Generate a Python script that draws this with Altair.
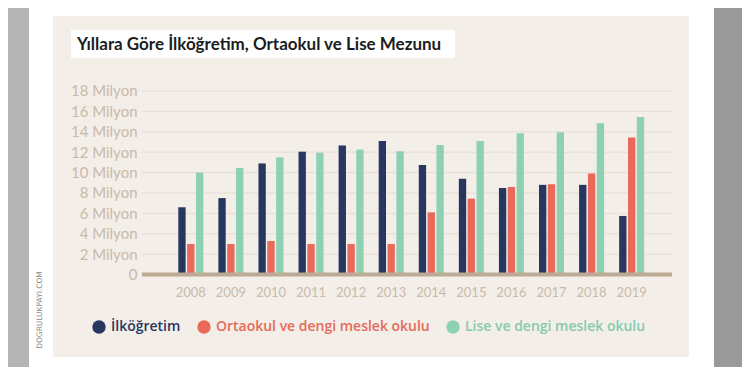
import altair as alt
import pandas as pd

years = ["2008", "2009", "2010", "2011", "2012", "2013", "2014", "2015", "2016", "2017", "2018", "2019"]
series_names = ["İlköğretim", "Ortaokul ve dengi meslek okulu", "Lise ve dengi meslek okulu"]
ilkogretim = [6.6, 7.5, 10.9, 12.05, 12.65, 13.1, 10.75, 9.4, 8.5, 8.8, 8.8, 5.75]
ortaokul = [3.0, 3.0, 3.3, 3.0, 3.0, 3.0, 6.1, 7.45, 8.6, 8.85, 9.9, 13.45]
lise = [10.0, 10.45, 11.5, 11.95, 12.25, 12.1, 12.7, 13.1, 13.85, 13.95, 14.85, 15.45]
y_ticks = [0, 2, 4, 6, 8, 10, 12, 14, 16, 18]
title_text = "Yıllara Göre İlköğretim, Ortaokul ve Lise Mezunu"
watermark = "DOGRULUKPAYI.COM"

colors = ["#27375f", "#e9695a", "#8ed0b4"]

rows = []
for name, vals in zip(series_names, [ilkogretim, ortaokul, lise]):
    for yr, v in zip(years, vals):
        rows.append({"year": yr, "series": name, "value": v})
df = pd.DataFrame(rows)

W, H = 530, 183.6
one = pd.DataFrame({"t": [title_text]})
wm = pd.DataFrame({"t": [watermark]})
grid_df = pd.DataFrame({"value": y_ticks[1:]})
base_df = pd.DataFrame({"value": [0]})

yscale = alt.Scale(domain=[0, 18], nice=False)
y_axis = alt.Axis(title=None, values=y_ticks, ticks=False, domain=False, grid=False,
                  labelOverlap=False, labelPadding=5, labelFont="Lato", labelFontSize=15,
                  labelColor="#c9baa8",
                  labelExpr="datum.value == 0 ? '0' : datum.value + ' Milyon'", zindex=1)

def rect(x1, x2, y1, y2, color):
    return alt.Chart(one).mark_rect(color=color).encode(
        x=alt.value(x1), x2=alt.value(x2), y=alt.value(y1), y2=alt.value(y2)
    )

left_gray = rect(-134, -113, -83, 276, "#b4b4b4")
right_gray = rect(572, 600, -83, 276, "#9a9a9a")
beige = rect(-89, 547, -75, 266, "#f3eee8")
title_box = rect(-71, 313, -61, -33, "#ffffff")

title = alt.Chart(one).mark_text(
    align="left", baseline="middle", font="Lato", fontSize=17, fontWeight="bold", color="#1c1c1c"
).encode(x=alt.value(-65), y=alt.value(-46), text="t:N")

wm_text = alt.Chart(wm).mark_text(
    angle=270, align="center", baseline="middle", font="DejaVu Sans", fontSize=7.5, color="#8a8a8a"
).encode(x=alt.value(-102), y=alt.value(219), text="t:N")

grid = alt.Chart(grid_df).mark_rule(color="#e6ddd2", strokeWidth=1).encode(
    y=alt.Y("value:Q", scale=yscale, axis=y_axis), x=alt.value(0), x2=alt.value(W)
)

color_expr = (
    f"datum.value == '{series_names[0]}' ? '{colors[0]}' : "
    f"datum.value == '{series_names[1]}' ? '#e66a58' : '#86caad'"
)

bars = alt.Chart(df).mark_bar().encode(
    x=alt.X("year:N", sort=years,
            scale=alt.Scale(paddingInner=0.376, paddingOuter=0.8, align=0.566),
            axis=alt.Axis(title=None, labelAngle=0, ticks=False, domain=False, labelPadding=12,
                          labelFont="Lato", labelFontSize=13, labelColor="#c9baa8", zindex=1)),
    xOffset=alt.XOffset("series:N", sort=series_names, scale=alt.Scale(paddingInner=0.17, paddingOuter=0)),
    y=alt.Y("value:Q", scale=yscale, axis=y_axis),
    color=alt.Color("series:N", sort=series_names,
                    scale=alt.Scale(domain=series_names, range=colors),
                    legend=alt.Legend(title=None, orient="none", legendX=-50, legendY=229,
                                      direction="horizontal", symbolType="circle", symbolSize=180,
                                      symbolStrokeWidth=0, labelFont="Open Sans", labelFontSize=14,
                                      labelFontWeight=600, labelOffset=5, columnPadding=16,
                                      labelLimit=400,
                                      labelColor={"expr": color_expr}, zindex=1)),
)

baseline = alt.Chart(base_df).mark_rule(color="#bcaa94", strokeWidth=4).encode(
    y=alt.Y("value:Q", scale=yscale, axis=y_axis), x=alt.value(0), x2=alt.value(W)
)

chart = alt.layer(
    left_gray, right_gray, beige, title_box, title, wm_text, grid, bars, baseline
).properties(
    width=W, height=H,
    padding={"left": 134, "top": 83, "right": 70, "bottom": 92},
    autosize=alt.AutoSizeParams(type="none"),
    background="#ffffff",
).configure_view(stroke=None)

chart.save("out.html", embed_options={"renderer": "svg", "actions": False})
